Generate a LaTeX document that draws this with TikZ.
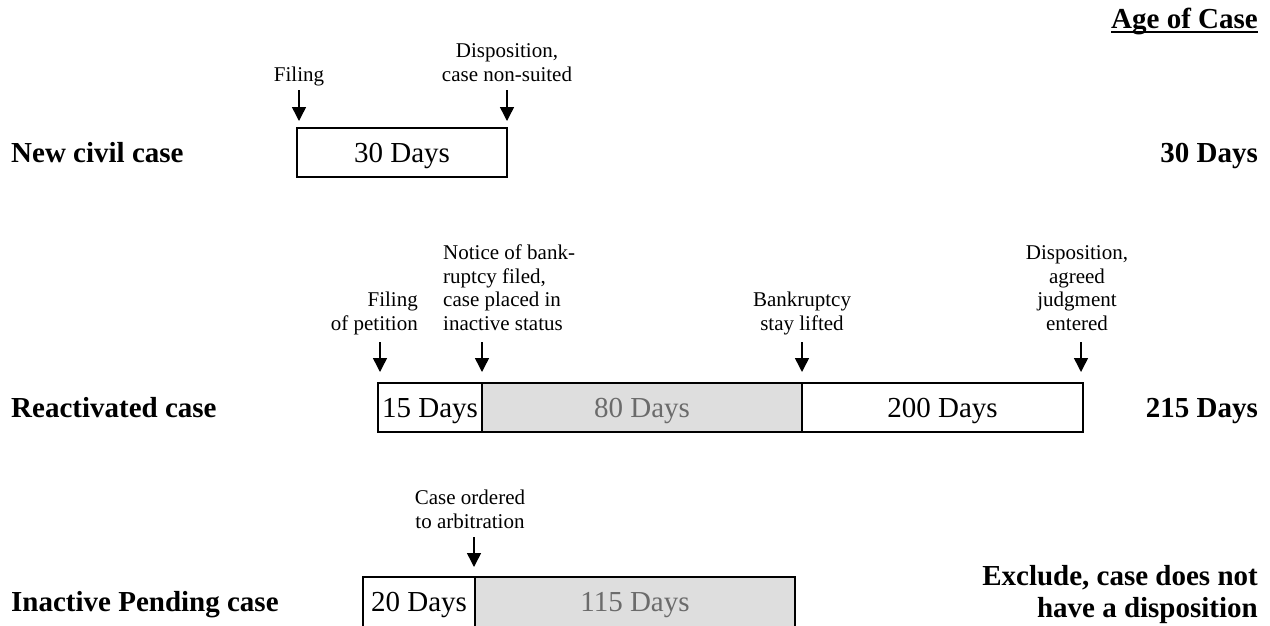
\documentclass[tikz,border=0pt]{standalone}
\usepackage{fontspec}
\setmainfont{Liberation Serif}
\usetikzlibrary{arrows.meta}

\definecolor{idlefill}{gray}{0.87}
\definecolor{idletext}{gray}{0.42}

\tikzset{
    daybox/.style={draw, line width=1.5pt, minimum height=49pt, inner sep=0pt, outer sep=0pt,
        anchor=north west, font=\fontsize{29}{32}\selectfont, text height=20pt, text depth=0pt},
    idlebox/.style={daybox, fill=idlefill, text=idletext},
    rowlabel/.style={font=\fontsize{29}{32}\selectfont\bfseries, inner sep=0pt, text height=20pt, text depth=0pt},
    evlabel/.style={font=\fontsize{21}{23.5}\selectfont, inner sep=0pt, anchor=base},
    evarrow/.style={-{Triangle[width=14pt,length=14pt]}, line width=1.5pt}
}

\begin{document}
\begin{tikzpicture}[x=1pt,y=-1pt]

    \useasboundingbox (0,0) rectangle (1270,625);

    % Kopfzeile rechts
    \node[font=\fontsize{29}{32}\selectfont\bfseries, inner sep=0pt, anchor=base east] (age) at (1258,28) {Age of Case};
    \draw[line width=1.6pt] ([yshift=-4pt]age.base west) -- ([yshift=-4pt]age.base east);

    % Zeile 1: neuer Fall
    \node[rowlabel, anchor=west] (new) at (11,152.5) {New civil case};
    \node[daybox, minimum width=210pt] (n30) at (297,128) {30 Days};
    \node[rowlabel, anchor=east] (new-age) at (1258,152.5) {30 Days};

    \node[evlabel] (n-fil) at (299,81) {Filing};
    \node[evlabel, align=center] (n-dis) at (507,81) {Disposition,\\case non-suited};
    \coordinate (n-fil-t) at (299,90);
    \coordinate (n-dis-t) at (507,90);
    \draw[evarrow] (n-fil-t) -- ([xshift=2pt,yshift=7pt]n30.north west);
    \draw[evarrow] (n-dis-t) -- ([yshift=7pt]n30.north east);

    % Zeile 2: reaktivierter Fall
    \node[rowlabel, anchor=west] (react) at (11,407.5) {Reactivated case};
    \node[daybox, minimum width=104pt] (r15) at (378,383) {15 Days};
    \node[idlebox, minimum width=320pt] (r80) at (r15.north east) {80 Days};
    \node[daybox, minimum width=281pt] (r200) at (r80.north east) {200 Days};
    \node[rowlabel, anchor=east] (react-age) at (1258,407.5) {215 Days};

    \node[evlabel, align=right, anchor=base east] (r-fil) at (418,330) {Filing\\of petition};
    \node[evlabel, align=left, anchor=base west] (r-not) at (443,330) {Notice of bank-\\ruptcy filed,\\case placed in\\inactive status};
    \node[evlabel, align=center] (r-stay) at (802,330) {Bankruptcy\\stay lifted};
    \node[evlabel, align=center] (r-dis) at (1077,330) {Disposition,\\agreed\\judgment\\entered};
    \coordinate (r-fil-t) at (380,342);
    \coordinate (r-not-t) at (482,342);
    \coordinate (r-stay-t) at (802,342);
    \coordinate (r-dis-t) at (1081,342);
    \draw[evarrow] (r-fil-t) -- ([xshift=2pt,yshift=11pt]r15.north west);
    \draw[evarrow] (r-not-t) -- ([yshift=11pt]r80.north west);
    \draw[evarrow] (r-stay-t) -- ([yshift=11pt]r200.north west);
    \draw[evarrow] (r-dis-t) -- ([xshift=-2pt,yshift=11pt]r200.north east);

    % Zeile 3: ruhender Fall (unten abgeschnitten)
    \node[rowlabel, anchor=west] (pend) at (11,601.5) {Inactive Pending case};
    \node[daybox, minimum width=112pt, minimum height=53pt, text height=16pt] (p20) at (363,577) {20 Days};
    \node[idlebox, minimum width=320pt, minimum height=53pt, text height=16pt] (p115) at (p20.north east) {115 Days};
    \node[font=\fontsize{29}{32}\selectfont\bfseries, inner sep=0pt, align=right, anchor=base east] (pend-age) at (1258,617) {Exclude, case does not\\have a disposition};

    \node[evlabel, align=center] (p-arb) at (470,528) {Case ordered\\to arbitration};
    \coordinate (p-arb-t) at (474,537);
    \draw[evarrow] (p-arb-t) -- ([xshift=-1pt,yshift=10pt]p115.north west);

\end{tikzpicture}
\end{document}
